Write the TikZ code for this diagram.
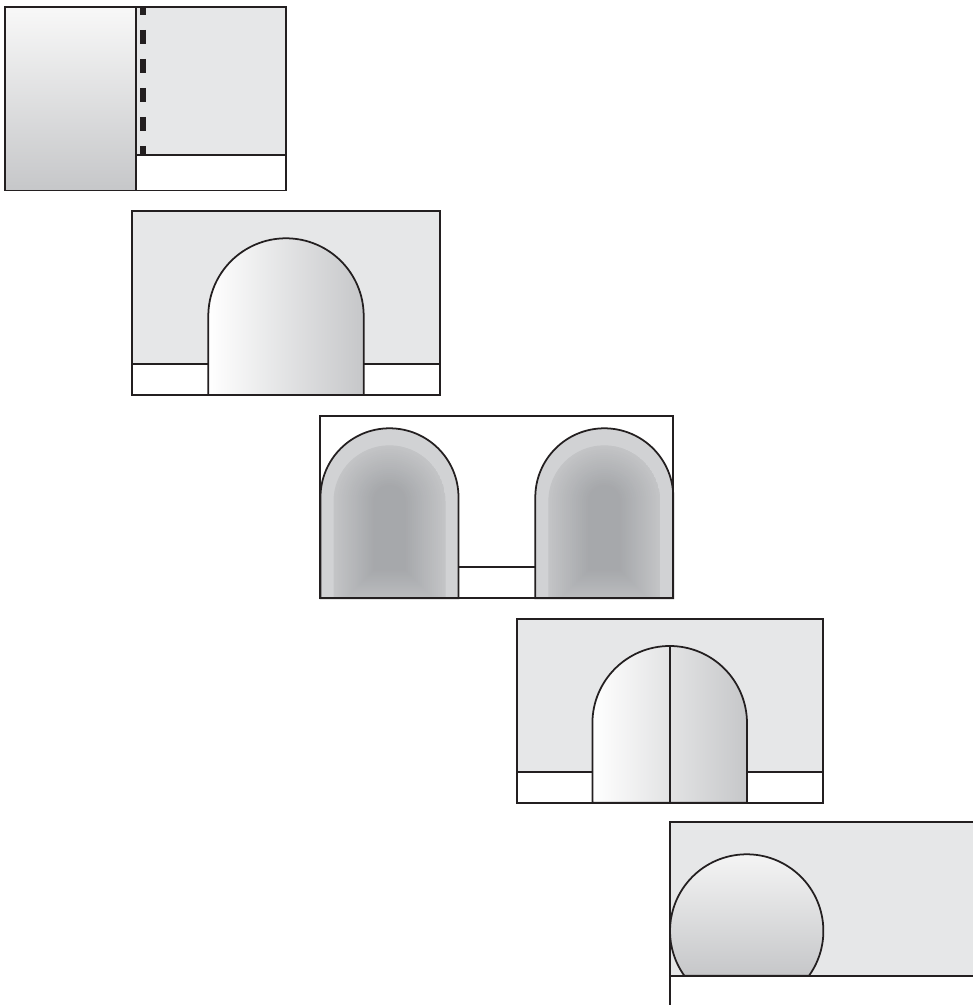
\documentclass[tikz,border=0pt]{standalone}
\usepackage{tikz}

\definecolor{panelgray}{HTML}{E6E7E8}
\definecolor{shadelight}{HTML}{F8F8F8}
\definecolor{shadegray}{HTML}{C6C7C9}
\definecolor{bandgray}{HTML}{D1D2D4}
\definecolor{burstlight}{HTML}{C3C4C6}
\definecolor{burstdark}{HTML}{A6A8AB}
\definecolor{inkblack}{HTML}{231F20}

% arch: centre x, spring y, radius, base y
\newcommand{\archpath}[4]{({#1-(#3)},#4) -- ({#1-(#3)},#2) arc (180:0:{#3}) -- ({#1+(#3)},#4) -- cycle}

\begin{document}
\begin{tikzpicture}[x=0.02cm,y=0.02cm]
       \tikzstyle{frame}=[draw=inkblack,line width=1pt]
       \tikzstyle{foldline}=[draw=inkblack,line width=3.2pt,dash pattern=on 0.28cm off 0.3cm,dash phase=0.12cm]

       \clip (0,0) rectangle (973,1005);

       % leaf swung open
       \fill[panelgray] (136,849.7) rectangle (286,998);
       \shade[top color=shadelight,bottom color=shadegray] (5,814.5) rectangle (136,998);
       \draw[foldline] (143,998) -- (143,849.7);
       \draw[frame] (5,814.5) rectangle (286,998);
       \draw[frame] (136,814.5) -- (136,998) (136,849.7) -- (286,849.7);

       % single arch
       \fill[panelgray] (132.3,641.3) rectangle (440,794);
       \shade[frame,left color=white,right color=shadegray] \archpath{286}{689}{77.7}{610};
       \draw[frame] (132.3,610) rectangle (440,794);
       \draw[frame] (132.3,641.3) -- (208.3,641.3) (363.7,641.3) -- (440,641.3);

       % twin arches
       \foreach \cx in {389.5,604.3} {
         \fill[bandgray] \archpath{\cx}{507.7}{69}{406.7};
         \begin{scope}
           \clip \archpath{\cx}{503.7}{56}{406.7};
           \foreach \k [evaluate=\k as \p using int(\k*2.5)] in {0,2,...,40}
             \fill[burstdark!\p!burstlight] \archpath{\cx}{503.7}{56-\k}{394.7+\k};
         \end{scope}
         \draw[frame] \archpath{\cx}{507.7}{69}{406.7};
       }
       \draw[frame] (320,406.7) rectangle (673.3,589.3);
       \draw[frame] (458.5,437.7) -- (535.3,437.7);

       % split arch
       \fill[panelgray] (516.7,233.3) rectangle (823.3,386);
       \shade[frame,left color=white,right color=shadegray] \archpath{669.7}{281.7}{77.3}{202.3};
       \draw[frame] (669.7,359) -- (669.7,202.3);
       \draw[frame] (516.7,202.3) rectangle (823.3,386);
       \draw[frame] (516.7,233.3) -- (592.4,233.3) (747,233.3) -- (823.3,233.3);

       % round opening
       \fill[panelgray] (670,29.3) rectangle (980,182.7);
       \shade[frame,top color=shadelight,bottom color=shadegray] (809,29.3) arc (-35.65:215.65:76.7) -- cycle;
       \draw[frame] (670,-5) -- (670,182.7) -- (980,182.7) (670,29.3) -- (980,29.3);
     \end{tikzpicture}
\end{document}
